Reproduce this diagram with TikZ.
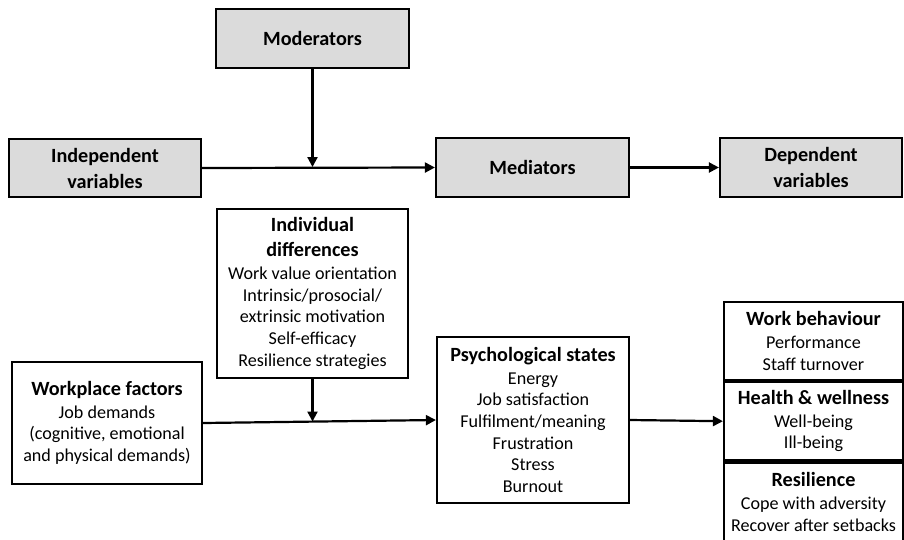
\documentclass[tikz,border=0pt]{standalone}
\usepackage{fontspec}
\setmainfont{Carlito}
\usetikzlibrary{arrows.meta}
\usetikzlibrary{positioning}
\definecolor{boxgray}{gray}{0.86}
\newcommand{\hd}[1]{{\fontsize{20.2}{25}\selectfont\bfseries #1}}
\tikzset{
  varbox/.style={draw, line width=2.2pt, fill=boxgray, align=center, inner sep=0pt,
    font=\fontsize{20.2}{26}\selectfont\bfseries},
  factbox/.style={draw, line width=2.2pt, fill=white, align=center, inner sep=0pt,
    font=\fontsize{18.1}{21.7}\selectfont},
  link/.style={line width=2.2pt, -{Triangle[length=10pt,width=10pt]}}
}

\begin{document}
\begin{tikzpicture}[x=1pt,y=-1pt]
    \useasboundingbox (0,0) rectangle (904,539);

    % general model
    \node[varbox, minimum width=193pt, minimum height=59pt] (mod) at (312.5,38.5) {Moderators};
    \node[varbox, minimum width=192pt, minimum height=58pt] (indep) at (105,168) {Independent\\variables};
    \node[varbox, minimum width=193pt, minimum height=59pt] (med) at (532.5,167.5) {Mediators};
    \node[varbox, minimum width=182pt, minimum height=59pt] (dep) at (811,167.5) {Dependent\\variables};
    \coordinate (modjoin) at (312.5,167);

    \draw[link] (indep.east) -- (med.west);
    \draw[link] (mod.south) -- (modjoin);
    \draw[link] (med.east) -- (dep.west);

    % applied model
    \node[factbox, minimum width=191pt, minimum height=169pt] (indiv) at (312.5,293.5)
      {\hd{Individual}\\[3pt]\hd{differences}\\[1pt]Work value orientation\\Intrinsic/prosocial/\\extrinsic motivation\\Self-efficacy\\Resilience strategies};
    \node[factbox, minimum width=190pt, minimum height=122pt] (work) at (107,423)
      {\hd{Workplace factors}\\[1pt]Job demands\\(cognitive, emotional\\and physical demands)};
    \node[factbox, minimum width=192pt, minimum height=166pt] (psych) at (533,420)
      {\hd{Psychological states}\\[1pt]Energy\\Job satisfaction\\Fulfilment/meaning\\Frustration\\Stress\\Burnout};
    \node[factbox, minimum width=179pt, minimum height=78pt] (behav) at (813.5,341)
      {\hd{Work behaviour}\\[1pt]Performance\\Staff turnover};
    \node[factbox, minimum width=179pt, minimum height=78pt, below=0pt of behav] (health)
      {\hd{Health \& wellness}\\[1pt]Well-being\\Ill-being};
    \node[factbox, minimum width=179pt, minimum height=79pt, below=0pt of health] (resil)
      {\hd{Resilience}\\[1pt]Cope with adversity\\Recover after setbacks};
    \coordinate (indivjoin) at (312.5,421.5);

    \draw[link] (work.east) -- (psych.west);
    \draw[link] (indiv.south) -- (indivjoin);
    \draw[link] (psych.east) -- (health.west);
\end{tikzpicture}
\end{document}
